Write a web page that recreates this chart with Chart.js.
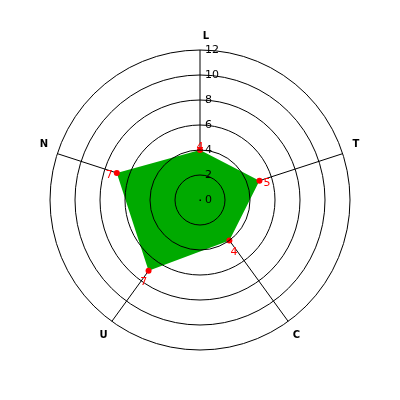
<!DOCTYPE html>
<html><head><meta charset="utf-8">
<script src="https://cdn.jsdelivr.net/npm/chart.js@4/dist/chart.umd.min.js"></script>
<style>html,body{margin:0;padding:0;background:#fff}#wrap{width:400px;height:400px}</style>
</head><body><div id="wrap"><canvas id="c" width="400" height="400"></canvas></div>
<script>
const categories = ['L', 'T', 'C', 'U', 'N'];
const values = [4, 5, 4, 7, 7];
const tickValues = [0, 2, 4, 6, 8, 10, 12];
const axisMin = 0, axisMax = 12, axisStep = 2;

const overlay = {
  id: 'overlay',
  beforeDatasetsDraw(chart) {
    const s = chart.scales.r, ctx = chart.ctx;
    ctx.save();
    ctx.strokeStyle = '#000';
    ctx.lineWidth = 1;
    for (let i = 0; i < categories.length; i++) {
      const p = s.getPointPosition(i, s.drawingArea);
      ctx.beginPath();
      ctx.moveTo(s.xCenter, s.yCenter);
      ctx.lineTo(p.x, p.y);
      ctx.stroke();
    }
    ctx.restore();
  },
  afterDraw(chart) {
    const s = chart.scales.r, ctx = chart.ctx;
    ctx.save();
    // tick labels
    ctx.font = '11px "DejaVu Sans"';
    ctx.fillStyle = '#000';
    ctx.textAlign = 'left';
    ctx.textBaseline = 'middle';
    s.ticks.forEach(t => {
      if (!tickValues.includes(t.value)) return;
      const d = s.getDistanceFromCenterForValue(t.value);
      ctx.fillText(String(t.value), s.xCenter + 5, s.yCenter - d);
    });
    ctx.fillRect(s.xCenter - 0.5, s.yCenter - 0.5, 1.5, 1.5);
    // point labels
    ctx.font = 'bold 10px "DejaVu Sans"';
    ctx.textAlign = 'center';
    categories.forEach((c, i) => {
      const p = s.getPointPosition(i, s.drawingArea + 14);
      const dy = p.y - s.yCenter, dx = p.x - s.xCenter;
      let oy = 0, ox = 0;
      if (Math.abs(dx) > 5) {
        oy = dy < 0 ? -5 : 3;
      } else {
        ox = 6;
      }
      ctx.fillText(c, p.x + ox, p.y + oy);
    });
    // value labels
    ctx.font = '11px "DejaVu Sans"';
    ctx.fillStyle = '#ff0000';
    const meta = chart.getDatasetMeta(0);
    meta.data.forEach((el, i) => {
      const dx = el.x - s.xCenter, dy = el.y - s.yCenter;
      const len = Math.hypot(dx, dy) || 1;
      ctx.fillText(String(values[i]), el.x + dx / len * 8, el.y + dy / len * 8 + 5);
    });
    ctx.restore();
  }
};

new Chart(document.getElementById('c'), {
  type: 'radar',
  data: {
    labels: categories,
    datasets: [{
      data: values,
      backgroundColor: '#00aa00',
      borderColor: '#00aa00',
      borderWidth: 0,
      fill: true,
      pointRadius: 3,
      pointBackgroundColor: '#ff0000',
      pointBorderColor: '#ff0000',
      pointBorderWidth: 0
    }]
  },
  options: {
    responsive: false,
    animation: false,
    layout: { padding: 50 },
    plugins: { legend: { display: false }, tooltip: { enabled: false } },
    scales: {
      r: {
        min: axisMin,
        max: axisMax,
        ticks: { stepSize: axisStep, display: false },
        pointLabels: { display: false },
        grid: { circular: true, color: '#000', lineWidth: 1, z: 1 },
        angleLines: { display: false }
      }
    }
  },
  plugins: [overlay]
});
</script>
</body></html>
